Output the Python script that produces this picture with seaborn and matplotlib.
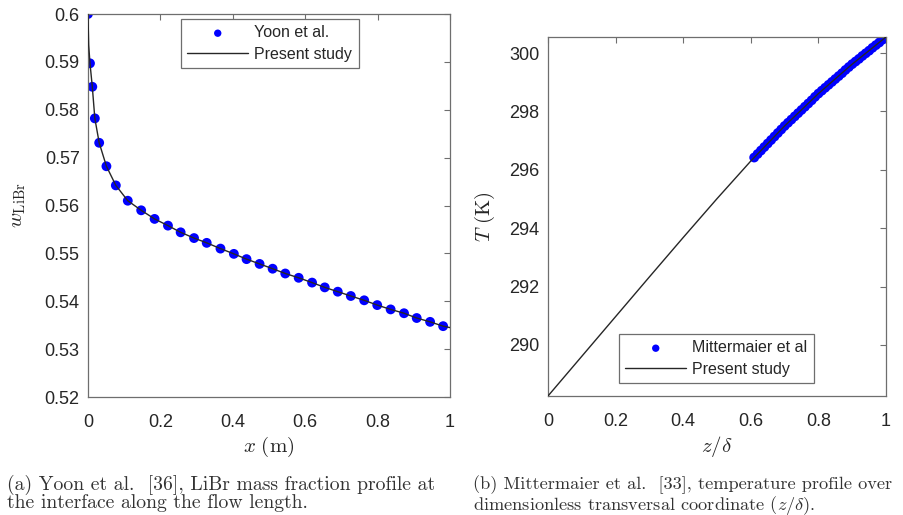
import numpy as np
import pandas as pd
import matplotlib
matplotlib.use("Agg")
import matplotlib.pyplot as plt
import seaborn as sns

sns.set_theme(style="white")
plt.rcParams['font.family'] = ['Liberation Sans', 'DejaVu Sans']
plt.rcParams['mathtext.fontset'] = 'cm'

# (a) Yoon et al. - LiBr mass fraction along the flow length
yoon_x = [0.0, 0.0056, 0.012, 0.019, 0.031, 0.051, 0.077, 0.110, 0.147, 0.184,
          0.221, 0.256, 0.293, 0.328, 0.366, 0.403, 0.438, 0.474, 0.510, 0.545,
          0.582, 0.619, 0.654, 0.690, 0.726, 0.763, 0.799, 0.836, 0.873, 0.908,
          0.945, 0.981]
yoon_w = [0.6000, 0.5897, 0.5848, 0.5782, 0.5731, 0.5682, 0.5642, 0.5610, 0.5590, 0.5572,
          0.5558, 0.5544, 0.5532, 0.5522, 0.5510, 0.5499, 0.5488, 0.5478, 0.5468, 0.5458,
          0.5449, 0.5439, 0.5429, 0.5420, 0.5411, 0.5402, 0.5392, 0.5383, 0.5375, 0.5365,
          0.5357, 0.5348]
model_a_x = [0.0, 0.002, 0.0056, 0.012, 0.019, 0.031, 0.051, 0.077, 0.110, 0.147,
             0.184, 0.221, 0.256, 0.293, 0.328, 0.366, 0.403, 0.438, 0.474, 0.510,
             0.545, 0.582, 0.619, 0.654, 0.690, 0.726, 0.763, 0.799, 0.836, 0.873,
             0.908, 0.945, 0.981, 1.0]
model_a_w = [0.6000, 0.5935, 0.5897, 0.5848, 0.5782, 0.5731, 0.5682, 0.5642, 0.5610, 0.5590,
             0.5572, 0.5558, 0.5544, 0.5532, 0.5522, 0.5510, 0.5499, 0.5488, 0.5478, 0.5468,
             0.5458, 0.5449, 0.5439, 0.5429, 0.5420, 0.5411, 0.5402, 0.5392, 0.5383, 0.5375,
             0.5365, 0.5357, 0.5348, 0.5345]

# (b) Mittermaier et al. - temperature over z/delta
mitt_z = [0.61, 0.62, 0.63, 0.64, 0.65, 0.66, 0.67, 0.68, 0.69, 0.70,
          0.71, 0.72, 0.73, 0.74, 0.75, 0.76, 0.77, 0.78, 0.79, 0.80,
          0.81, 0.82, 0.83, 0.84, 0.85, 0.86, 0.87, 0.88, 0.89, 0.90,
          0.91, 0.92, 0.93, 0.94, 0.95, 0.96, 0.97, 0.98, 0.99, 1.00]
mitt_T = [296.42, 296.54, 296.66, 296.78, 296.90, 297.02, 297.14, 297.26, 297.38, 297.50,
          297.61, 297.72, 297.83, 297.94, 298.05, 298.16, 298.27, 298.38, 298.50, 298.61,
          298.71, 298.81, 298.91, 299.01, 299.11, 299.21, 299.31, 299.42, 299.52, 299.62,
          299.71, 299.80, 299.90, 299.99, 300.08, 300.18, 300.27, 300.36, 300.46, 300.55]
model_b_z = [0.0, 0.1, 0.2, 0.3, 0.4, 0.5, 0.6, 0.7, 0.8, 0.9, 1.0]
model_b_T = [288.25, 289.61, 290.97, 292.33, 293.68, 295.01, 296.30, 297.50, 298.61, 299.62, 300.55]

xticks = [0, 0.2, 0.4, 0.6, 0.8, 1]
xtick_labels = ['0', '0.2', '0.4', '0.6', '0.8', '1']
a_yticks = [0.52, 0.53, 0.54, 0.55, 0.56, 0.57, 0.58, 0.59, 0.6]
a_ytick_labels = ['0.52', '0.53', '0.54', '0.55', '0.56', '0.57', '0.58', '0.59', '0.6']
b_yticks = [290, 292, 294, 296, 298, 300]
b_ytick_labels = ['290', '292', '294', '296', '298', '300']

df_a_pts = pd.DataFrame({'x': yoon_x, 'w': yoon_w})
df_a_line = pd.DataFrame({'x': model_a_x, 'w': model_a_w})
df_b_pts = pd.DataFrame({'z': mitt_z, 'T': mitt_T})
df_b_line = pd.DataFrame({'z': model_b_z, 'T': model_b_T})

fig = plt.figure(figsize=(9.04, 5.15), dpi=100)
ax1 = fig.add_axes([0.0973, 0.2291, 0.4005, 0.7437])
ax2 = fig.add_axes([0.6062, 0.2311, 0.3739, 0.6971])

blue = '#0000ff'
line_c = '#262626'
spine_c = '#6e6e6e'

sns.scatterplot(data=df_a_pts, x='x', y='w', ax=ax1, color=blue, s=50,
                edgecolor='none', label='Yoon et al.', zorder=2)
sns.lineplot(data=df_a_line, x='x', y='w', ax=ax1, color=line_c, lw=1.0,
             estimator=None, sort=False, label='Present study', zorder=3)

sns.scatterplot(data=df_b_pts, x='z', y='T', ax=ax2, color=blue, s=50,
                edgecolor='none', label='Mittermaier et al', zorder=2)
sns.lineplot(data=df_b_line, x='z', y='T', ax=ax2, color=line_c, lw=1.0,
             estimator=None, sort=False, label='Present study', zorder=3)

ax1.set_xlim(0, 1)
ax1.set_ylim(0.52, 0.6)
ax1.set_yticks(a_yticks)
ax1.set_yticklabels(a_ytick_labels)
ax2.set_xlim(0, 1)
ax2.set_ylim(288.25, 300.55)
ax2.set_yticks(b_yticks)
ax2.set_yticklabels(b_ytick_labels)

for ax in (ax1, ax2):
    ax.set_xticks(xticks)
    ax.set_xticklabels(xtick_labels)
    ax.tick_params(direction='in', top=True, right=True, length=4, width=0.8,
                   color=spine_c, labelsize=13, labelcolor='#262626')
    ax.tick_params(axis='x', pad=12)
    ax.tick_params(axis='y', pad=6)
    for sp in ax.spines.values():
        sp.set_color(spine_c)
        sp.set_linewidth(0.9)
        sp.set_visible(True)
    ax.grid(False)

ax1.set_xlabel(r'$x\ (\mathrm{m})$', fontsize=15, color='#262626')
ax1.set_ylabel(r'$w_{\mathrm{LiBr}}$', fontsize=15, color='#262626')
ax1.xaxis.set_label_coords(0.5, -0.098)
ax1.yaxis.set_label_coords(-0.165, 0.5)
ax2.set_xlabel(r'$z/\delta$', fontsize=15, color='#262626')
ax2.set_ylabel(r'$T\ (\mathrm{K})$', fontsize=15, color='#262626')
ax2.xaxis.set_label_coords(0.5, -0.105)
ax2.yaxis.set_label_coords(-0.151, 0.5)

leg_kw = dict(fontsize=11.5, frameon=True, fancybox=False, framealpha=1,
              edgecolor=spine_c, handlelength=3.8, handletextpad=0.4,
              labelspacing=0.4, borderpad=0.4, borderaxespad=0,
              loc='upper left', bbox_transform=fig.transFigure, markerscale=0.75)
leg1 = ax1.legend(bbox_to_anchor=(181 / 904, 1 - 19 / 515), **leg_kw)
leg2 = ax2.legend(bbox_to_anchor=(619 / 904, 1 - 334 / 515), **leg_kw)
for leg in (leg1, leg2):
    leg.get_frame().set_linewidth(0.9)

cap_kw = dict(family='cmr10', color='#333333', va='top', ha='left')
fig.text(7 / 904, 1 - 475 / 515,
         '(a) Yoon et al.  [36], LiBr mass fraction profile at\n'
         'the interface along the flow length.', fontsize=14.2, linespacing=0.95, **cap_kw)
fig.text(473 / 904, 1 - 475 / 515,
         '(b) Mittermaier et al.  [33], temperature profile over\n'
         r'dimensionless transversal coordinate $(z/\delta)$.', fontsize=13.2,
         linespacing=0.99, **cap_kw)

fig.savefig('out.png', dpi=100)
